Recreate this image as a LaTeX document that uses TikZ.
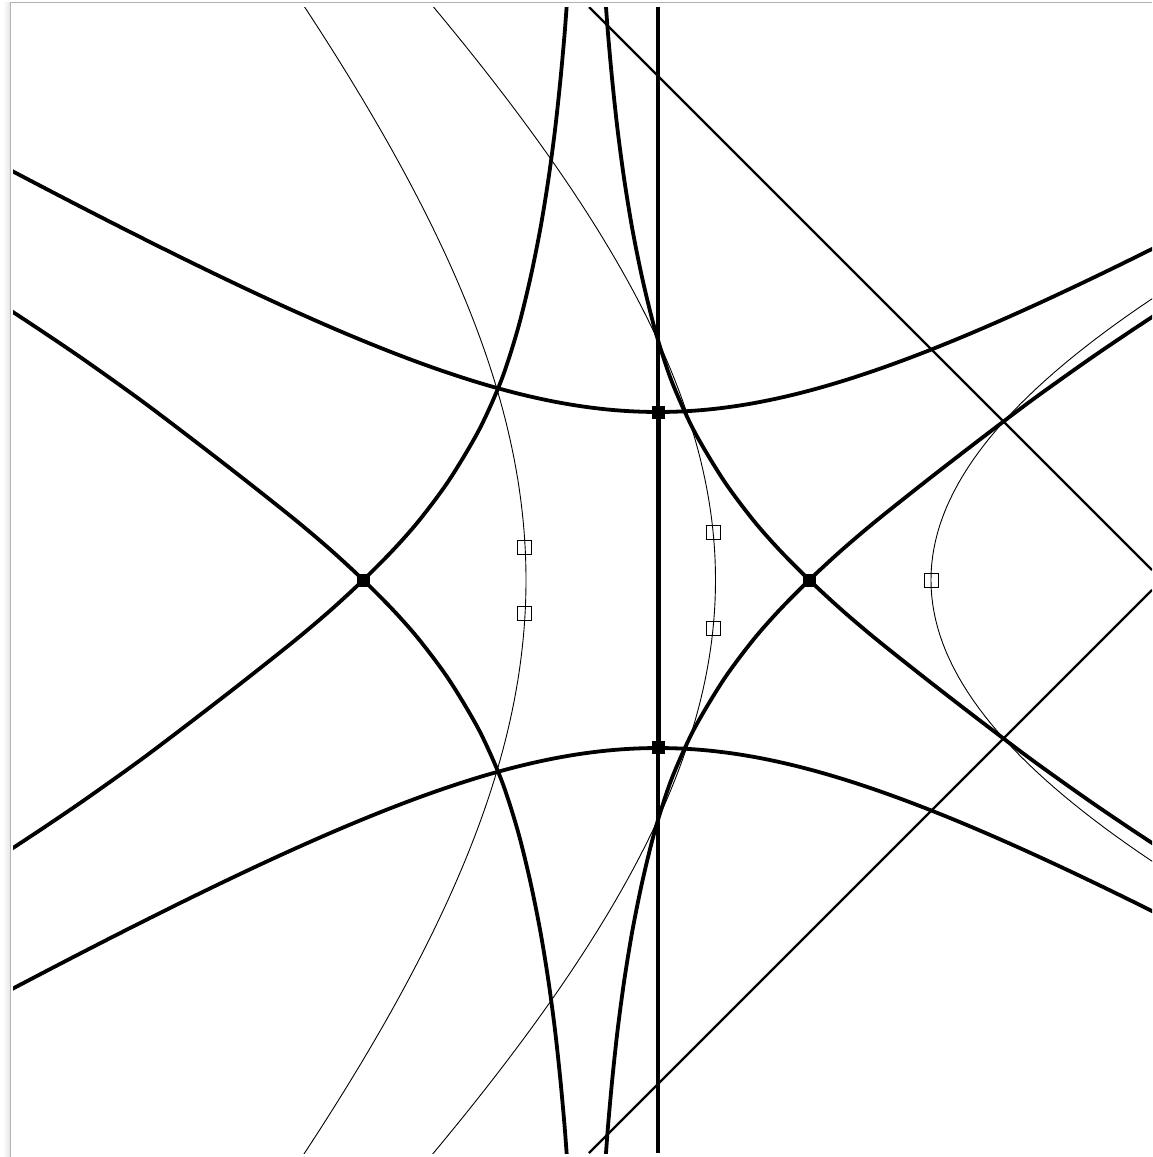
\documentclass[tikz,border=0pt]{standalone}
\begin{document}
\begin{tikzpicture}[x=1pt,y=-1pt,
  thickcurve/.style={line width=3.8pt, line join=round},
  thincurve/.style={line width=0.9pt},
  diagline/.style={line width=2.3pt},
  vline/.style={line width=3.8pt},
  blacksq/.style={rectangle, draw=none, fill=black, minimum size=13pt, inner sep=0pt, outer sep=0pt},
  opensq/.style={rectangle, draw=black, line width=0.8pt, minimum size=14pt, inner sep=0pt}]
\newcommand\Lpath{plot[smooth, tension=0.5] coordinates {(568.5,-20) (564.9,30) (560.4,80) (555.0,130) (548.3,180) (540.1,230) (529.95,280) (517.55,330) (501.4,380) (479.0,430) (449.2,480) (419.5,520) (393.1,550) (363.3,580) (330.8,610) (295.4,640) (245.1,680) (193.4,720) (140.5,760) (84.4,800) (40.2,830) (-5.4,860)}}
\useasboundingbox (0,0) rectangle (1152,1157);
\fill[white] (0,0) rectangle (1152,1157);
\shade[left color=white, right color=gray!20] (3,2.5) rectangle (10,1157);
\draw[gray!60, line width=1.2pt] (10.5,1157) -- (10.5,2.5) -- (1152,2.5);
\begin{scope}
\clip (13,7) rectangle (1152,1153);
% thin curves
\draw[thincurve] plot[domain=-620:620, samples=125] ({526-514*(sqrt(1+(\x/560)*(\x/560))-1)}, {580+\x});
\draw[thincurve] plot[domain=-620:620, samples=125] ({715.5-635*(sqrt(1+(\x/550)*(\x/550))-1)}, {580+\x});
\draw[thincurve] plot[domain=-320:320, samples=81] ({931+2000*(sqrt(1+(\x/582.3)*(\x/582.3))-1)}, {580+\x});
% hyperbolas
\draw[thickcurve] plot[domain=-1.6:1.4, samples=121] ({658+291*sinh(\x)}, {580-168*cosh(\x)});
\draw[thickcurve] plot[domain=-1.6:1.4, samples=121] ({658+291*sinh(\x)}, {580+168*cosh(\x)});
% cusp curves
\draw[thickcurve] \Lpath;
\begin{scope}[xshift=1172.6pt, xscale=-1]
\draw[thickcurve] \Lpath;
\end{scope}
\begin{scope}[yshift=-1160pt, yscale=-1]
\draw[thickcurve] \Lpath;
\end{scope}
\begin{scope}[xshift=1172.6pt, xscale=-1, yshift=-1160pt, yscale=-1]
\draw[thickcurve] \Lpath;
\end{scope}
% straight lines
\coordinate (vtop) at (657.8,7);
\coordinate (vbot) at (657.8,1153);
\draw[vline] (vtop) -- (vbot);
\coordinate (d1a) at (589,7);
\coordinate (d1b) at (1152,570);
\coordinate (d2a) at (589,1153);
\coordinate (d2b) at (1152,590);
\draw[diagline] (d1a) -- (d1b);
\draw[diagline] (d2a) -- (d2b);
\end{scope}
\node[blacksq] (xl) at (363.3,580) {};
\node[blacksq] (xr) at (809.3,580) {};
\node[blacksq] (vt) at (658.3,412.5) {};
\node[blacksq] (vb) at (658.3,747.5) {};
\draw[line width=5.2pt] (vt) -- (vb);
\node[opensq] (o1) at (524.8,547) {};
\node[opensq] (o2) at (524.8,613) {};
\node[opensq] (o3) at (713.3,532) {};
\node[opensq] (o4) at (713.3,628) {};
\node[opensq] (o5) at (931,580) {};
\end{tikzpicture}
\end{document}
